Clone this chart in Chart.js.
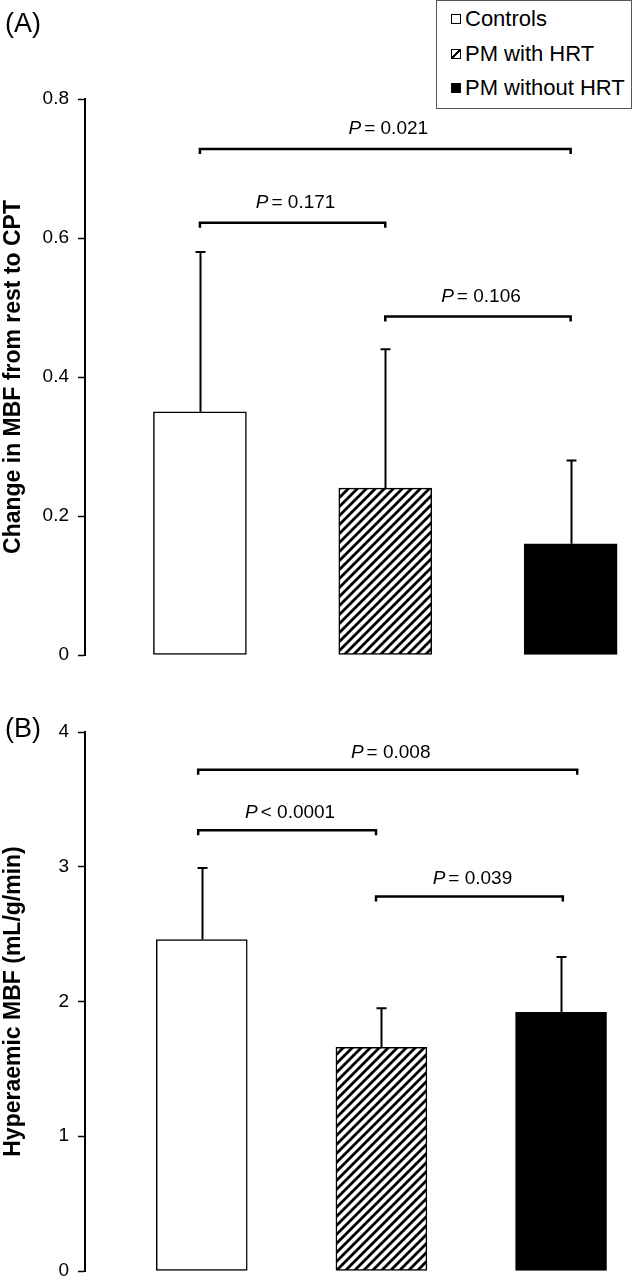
<!DOCTYPE html>
<html>
<head>
<meta charset="utf-8">
<script src="https://cdn.jsdelivr.net/npm/chart.js@4"></script>
<style>
  body { margin: 0; background: #fff; width: 637px; height: 1280px; overflow: hidden; position: relative; font-family: "Liberation Sans", Arial, sans-serif; }
  canvas { display: block; position: absolute; left: 0; }
  #leyenda { position: absolute; left: 436px; top: 0; width: 196px; height: 109px; border: 1px solid #555; background: #fff; box-sizing: border-box; }
  .fila { position: absolute; left: 14px; font-size: 22px; line-height: 22px; color: #000; white-space: nowrap; }
  .caja { display: inline-block; width: 8px; height: 8px; border: 1.5px solid #000; margin-right: 4px; vertical-align: 2px; }
</style>
</head>
<body>
<canvas id="panelA" width="637" height="680" style="top:0"></canvas>
<canvas id="panelB" width="637" height="620" style="top:680px"></canvas>
<div id="leyenda">
  <div class="fila" style="top:7px"><span class="caja" style="background:#fff"></span>Controls</div>
  <div class="fila" style="top:42px"><span class="caja" style="background:linear-gradient(135deg,#fff 0 40%,#000 40% 60%,#fff 60% 100%)"></span>PM with HRT</div>
  <div class="fila" style="top:76px"><span class="caja" style="background:#000"></span>PM without HRT</div>
</div>
<script>
// Datos
const categorias = ['Controls', 'PM with HRT', 'PM without HRT'];

const cambioMedias = [0.35, 0.24, 0.16];
const cambioErrores = [0.23, 0.20, 0.12];
const ticksA = [0, 0.2, 0.4, 0.6, 0.8];

const hiperMedias = [2.46, 1.66, 1.92];
const hiperErrores = [0.53, 0.29, 0.41];
const ticksB = [0, 1, 2, 3, 4];

// Comparaciones (P) para cada panel
const pTextosA = ['= 0.021', '= 0.171', '= 0.106'];
const pNivelesA = [0.728, 0.622, 0.487];
const pDesdeA = [1, 1, 2];
const pHastaA = [3, 2, 3];

const pTextosB = ['= 0.008', '< 0.0001', '= 0.039'];
const pNivelesB = [3.72, 3.27, 2.78];
const pDesdeB = [0.98, 0.98, 1.97];
const pHastaB = [3.09, 1.97, 3.01];

Chart.defaults.font.family = '"Liberation Sans", Arial, sans-serif';
Chart.defaults.color = '#000';

function crearRayado() {
    const c = document.createElement('canvas');
    c.width = 9; c.height = 9;
    const g = c.getContext('2d');
    g.fillStyle = '#fff';
    g.fillRect(0, 0, 9, 9);
    g.strokeStyle = '#000';
    g.lineWidth = 2.8;
    g.beginPath();
    g.moveTo(-2, 11); g.lineTo(11, -2);
    g.moveTo(-2, 2); g.lineTo(2, -2);
    g.moveTo(7, 11); g.lineTo(11, 7);
    g.stroke();
    return g.createPattern(c, 'repeat');
}

const extras = {
    id: 'extras',
    afterDatasetsDraw(chart, args, o) {
        const ctx = chart.ctx;
        const x = chart.scales.x, y = chart.scales.y;
        ctx.save();
        ctx.strokeStyle = '#000';
        ctx.fillStyle = '#000';

        // barras de error (solo hacia arriba)
        ctx.lineWidth = 2;
        o.medias.forEach((m, i) => {
            const px = Math.round(x.getPixelForValue(i + 1)) + 0.5;
            const y0 = y.getPixelForValue(m);
            const y1 = y.getPixelForValue(m + o.errores[i]);
            ctx.beginPath();
            ctx.moveTo(px, y0);
            ctx.lineTo(px, y1);
            ctx.moveTo(px - 5, y1);
            ctx.lineTo(px + 5, y1);
            ctx.stroke();
        });

        // corchetes con valor P
        o.textos.forEach((t, i) => {
            const xa = x.getPixelForValue(o.desde[i]);
            const xb = x.getPixelForValue(o.hasta[i]);
            const yy = y.getPixelForValue(o.niveles[i]);
            ctx.lineWidth = 2.5;
            ctx.beginPath();
            ctx.moveTo(xa, yy + 5);
            ctx.lineTo(xa, yy);
            ctx.lineTo(xb, yy);
            ctx.lineTo(xb, yy + 5);
            ctx.stroke();

            ctx.textBaseline = 'alphabetic';
            ctx.textAlign = 'left';
            ctx.font = 'italic 19px "Liberation Sans", Arial';
            const wP = ctx.measureText('P').width;
            ctx.font = '19px "Liberation Sans", Arial';
            const wR = ctx.measureText(t).width;
            const total = wP + 3 + wR;
            const inicio = (xa + xb) / 2 + 3 - total / 2;
            const base = yy - o.hueco;
            ctx.font = 'italic 19px "Liberation Sans", Arial';
            ctx.fillText('P', inicio, base);
            ctx.font = '19px "Liberation Sans", Arial';
            ctx.fillText(t, inicio + wP + 3, base);
        });

        // letra del panel
        ctx.font = '27px "Liberation Sans", Arial';
        ctx.textBaseline = 'middle';
        ctx.fillText(o.panel, 5, o.panelY);
        ctx.restore();
    }
};

function crearPanel(id, cfg) {
    const puntos = cfg.medias.map((v, i) => ({ x: i + 1, y: v }));
    new Chart(document.getElementById(id), {
        type: 'bar',
        data: {
            labels: categorias,
            datasets: [{
                label: cfg.titulo,
                data: puntos,
                backgroundColor: ['#ffffff', crearRayado(), '#000000'],
                borderColor: '#000',
                borderWidth: 1.5,
                borderSkipped: false,
                barThickness: cfg.ancho
            }]
        },
        options: {
            responsive: false,
            animation: false,
            events: [],
            layout: { padding: { top: cfg.arriba, bottom: cfg.abajo, left: 0, right: 5 } },
            plugins: {
                legend: { display: false },
                tooltip: { enabled: false },
                extras: {
                    medias: cfg.medias, errores: cfg.errores,
                    textos: cfg.textos, niveles: cfg.niveles, desde: cfg.desde, hasta: cfg.hasta,
                    hueco: cfg.hueco, panel: cfg.panel, panelY: cfg.panelY
                }
            },
            scales: {
                x: { type: 'linear', offset: false, min: cfg.xMin, max: cfg.xMax, display: false },
                y: {
                    min: 0,
                    max: cfg.ticks[cfg.ticks.length - 1],
                    afterBuildTicks: s => { s.ticks = cfg.ticks.map(v => ({ value: v })); },
                    afterFit: s => { s.width = 85; },
                    ticks: { font: { size: 19 }, padding: 9, color: '#000', callback: v => String(v) },
                    grid: { display: true, drawOnChartArea: false, drawTicks: true, tickLength: 7, tickWidth: 1.5, color: '#000' },
                    border: { display: true, color: '#000', width: 2 },
                    title: { display: true, text: cfg.titulo, font: { size: 23, weight: 'bold' }, padding: 0, color: '#000' }
                }
            }
        },
        plugins: [extras]
    });
}

crearPanel('panelA', {
    titulo: 'Change in MBF from rest to CPT',
    medias: cambioMedias, errores: cambioErrores, ticks: ticksA,
    textos: pTextosA, niveles: pNivelesA, desde: pDesdeA, hasta: pHastaA,
    xMin: 0.38, xMax: 3.331, ancho: 93,
    arriba: 99, abajo: 25, hueco: 15, panel: '(A)', panelY: 25
});

crearPanel('panelB', {
    titulo: 'Hyperaemic MBF (mL/g/min)',
    medias: hiperMedias, errores: hiperErrores, ticks: ticksB,
    textos: pTextosB, niveles: pNivelesB, desde: pDesdeB, hasta: pHastaB,
    xMin: 0.35, xMax: 3.395, ancho: 91,
    arriba: 52, abajo: 29, hueco: 12, panel: '(B)', panelY: 50
});
</script>
</body>
</html>
